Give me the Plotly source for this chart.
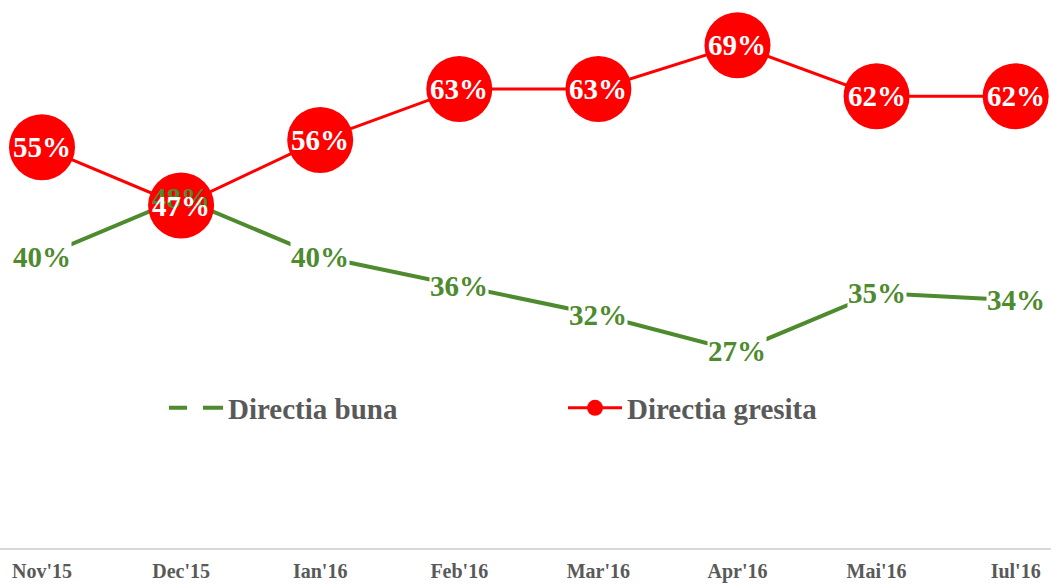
import plotly.graph_objects as go

categories = ["Nov'15", "Dec'15", "Ian'16", "Feb'16", "Mar'16", "Apr'16", "Mai'16", "Iul'16"]
buna_vals = [40, 48, 40, 36, 32, 27, 35, 34]
gresita_vals = [55, 47, 56, 63, 63, 69, 62, 62]
series_names = ["Directia buna", "Directia gresita"]

GREEN = "#4E8A2E"
RED = "#FF0000"
GRAY = "#595959"
FONT = "Liberation Serif"

fig = go.Figure()

# data lines
fig.add_trace(go.Scatter(x=categories, y=buna_vals, mode="lines",
                         line=dict(color=GREEN, width=4), showlegend=False,
                         hoverinfo="skip", cliponaxis=False))
fig.add_trace(go.Scatter(x=categories, y=gresita_vals, mode="lines+markers",
                         line=dict(color=RED, width=3),
                         marker=dict(color=RED, size=66, line=dict(width=0)),
                         showlegend=False, hoverinfo="skip", cliponaxis=False))

# legend entries
fig.add_trace(go.Scatter(x=[None], y=[None], mode="lines", name=series_names[0],
                         line=dict(color=GREEN, width=4, dash="18px,16px,20px,40px")))
fig.add_trace(go.Scatter(x=[None], y=[None], mode="lines+markers", name=series_names[1],
                         line=dict(color=RED, width=3),
                         marker=dict(color=RED, size=30)))

annotations = []
for c, g, r in zip(categories, buna_vals, gresita_vals):
    annotations.append(dict(x=c, y=g, text=f"{g}%", showarrow=False,
                            font=dict(family=FONT, size=29, color=GREEN, weight="bold"),
                            bgcolor="rgba(0,0,0,0)" if abs(g - r) < 6 else "white",
                            borderpad=0, xanchor="center", yanchor="middle"))
for c, r in zip(categories, gresita_vals):
    annotations.append(dict(x=c, y=r, text=f"{r}%", showarrow=False,
                            font=dict(family=FONT, size=29, color="white", weight="bold"),
                            xanchor="center", yanchor="middle"))

fig.update_layout(
    width=1051, height=584,
    margin=dict(l=0, r=0, t=0, b=36, autoexpand=False),
    paper_bgcolor="white", plot_bgcolor="white",
    annotations=annotations,
    xaxis=dict(type="category", range=[-0.302, 7.254], showgrid=False, automargin=False,
               showline=True, linecolor="#D9D9D9", linewidth=2, ticks="",
               ticklabelstandoff=4,
               tickfont=dict(family=FONT, size=20, color=GRAY, weight="bold"),
               fixedrange=True),
    yaxis=dict(range=[0, 75.2], visible=False, fixedrange=True, automargin=False),
    legend=dict(orientation="h", x=164 / 1051, y=(548 - 408) / 548, xanchor="left", yanchor="middle",
                font=dict(family=FONT, size=29, color=GRAY, weight="bold"),
                itemwidth=54, entrywidth=330, bgcolor="rgba(0,0,0,0)"),
    showlegend=True,
)

fig.write_html("out.html", config={"displayModeBar": False},
               post_script="document.body.style.margin='0';document.body.style.padding='0';")
